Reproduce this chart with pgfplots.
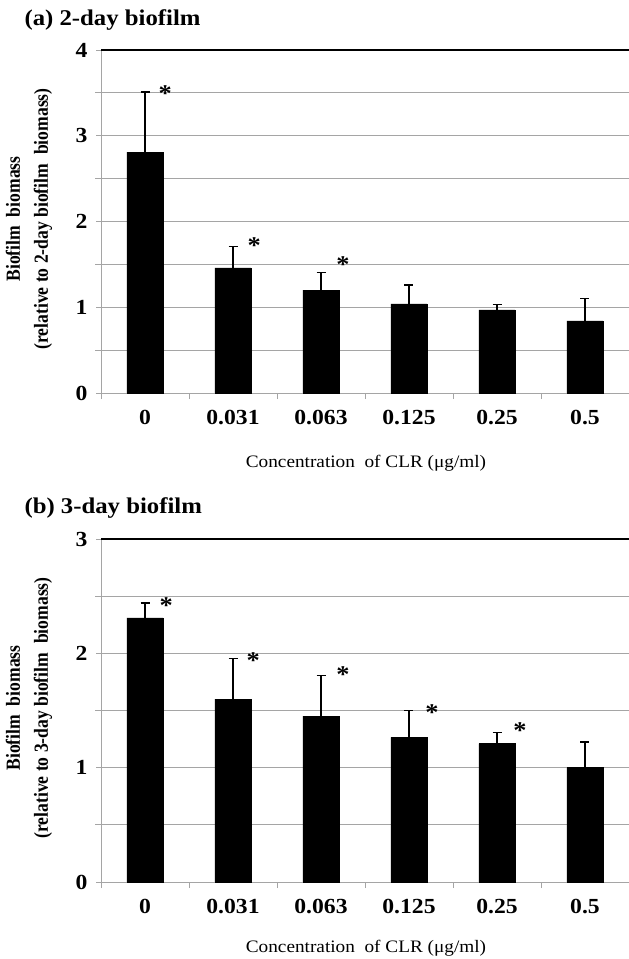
\documentclass[border=0pt]{standalone}
\usepackage{fontspec}
\setmainfont{Liberation Serif}
\newfontfamily\stretched[FakeStretch=1.1]{Liberation Serif}
\newfontfamily\condensed[FakeStretch=0.88]{Liberation Serif}
\usepackage{pgfplots}
\usepackage{pgfplotstable}
\pgfplotsset{compat=1.18}

\pgfplotstableread{
x y e
0 2.81 0.70
1 1.46 0.25
2 1.20 0.21
3 1.04 0.22
4 0.97 0.06
5 0.84 0.26
}\dataA
\pgfplotstableread{
x y
0.23 3.53
1.24 1.75
2.25 1.53
}\starA
\pgfplotstableread{
x y e
0 2.31 0.13
1 1.60 0.355
2 1.45 0.36
3 1.265 0.235
4 1.21 0.10
5 1.00 0.225
}\dataB
\pgfplotstableread{
x y
0.24 2.44
1.23 1.96
2.25 1.84
3.26 1.51
4.26 1.35
}\starB

\definecolor{gridgray}{RGB}{165,165,165}

\pgfplotsset{
  bioaxis/.style={
    scale only axis, width=528pt, height=343pt,
    xmin=-0.5, xmax=5.5, ymin=0,
    axis x line*=bottom, axis y line*=left,
    axis line style={draw=gridgray, line width=0.9pt},
    tick align=outside,
    major tick length=5pt, minor tick length=6pt,
    xtick={0,...,5},
    xticklabels={0,0.031,0.063,0.125,0.25,0.5},
    major x tick style={draw=none},
    minor xtick={-0.5,0.5,1.5,2.5,3.5,4.5,5.5},
    minor x tick style={draw=gridgray, line width=0.9pt},
    major y tick style={draw=gridgray, line width=0.9pt},
    minor y tick style={draw=gridgray, line width=0.9pt},
    ymajorgrids, yminorgrids,
    grid style={draw=gridgray, line width=0.9pt},
    minor grid style={draw=gridgray, line width=0.9pt},
    /pgf/number format/assume math mode=true,
    tick label style={font=\stretched\bfseries\fontsize{21.5}{23}\selectfont},
    xticklabel style={yshift=-9pt},
    yticklabel style={xshift=-5pt},
    clip=false,
  },
  barstyle/.style={
    ybar, bar width=36pt, fill=black, draw=black,
    error bars/.cd, y dir=plus, y explicit,
    error bar style={black, line width=1.1pt},
    error mark options={rotate=90, black, mark size=4.5pt, line width=1.1pt},
  },
  starstyle/.style={
    draw=none, mark=none,
    nodes near coords={*},
    every node near coord/.append style={anchor=center, yshift=-3pt,
      font=\stretched\bfseries\fontsize{24}{26}\selectfont, inner sep=0pt},
  },
}

\begin{document}
\begin{tikzpicture}
\path[use as bounding box] (0,0) rectangle (629pt,-959pt);

% ---------- (a) ----------
\begin{axis}[bioaxis, at={(101pt,-393pt)}, anchor=south west,
  ymax=4, ytick={0,1,2,3}, minor ytick={0.5,1.5,2.5,3.5},
  extra y ticks={4}, extra y tick labels={4},
  extra y tick style={grid style={draw=black, line width=1.1pt}}]
\addplot[barstyle] table[x=x, y=y, y error=e] {\dataA};
\addplot[starstyle] table[x=x, y=y] {\starA};
\end{axis}

\node[anchor=base west, font=\stretched\bfseries\fontsize{22.5}{25}\selectfont]
  at (21pt,-25pt) {(a) 2-day biofilm};
\node[anchor=base, font=\stretched\fontsize{17.5}{20}\selectfont]
  at (366pt,-467pt) {Concentration\ \ of CLR (μg/ml)};
\node[rotate=90, align=center, font=\condensed\bfseries\fontsize{20}{28}\selectfont]
  at (29pt,-219pt) {Biofilm\ \ biomass\\(relative to 2-day biofilm\ \ biomass)};

% ---------- (b) ----------
\begin{axis}[bioaxis, at={(101pt,-882pt)}, anchor=south west,
  ymax=3, ytick={0,1,2}, minor ytick={0.5,1.5,2.5},
  extra y ticks={3}, extra y tick labels={3},
  extra y tick style={grid style={draw=black, line width=1.1pt}}]
\addplot[barstyle] table[x=x, y=y, y error=e] {\dataB};
\addplot[starstyle] table[x=x, y=y] {\starB};
\end{axis}

\node[anchor=base west, font=\stretched\bfseries\fontsize{22.5}{25}\selectfont]
  at (21pt,-513pt) {(b) 3-day biofilm};
\node[anchor=base, font=\stretched\fontsize{17.5}{20}\selectfont]
  at (366pt,-952pt) {Concentration\ \ of CLR (μg/ml)};
\node[rotate=90, align=center, font=\condensed\bfseries\fontsize{20}{28}\selectfont]
  at (29pt,-708pt) {Biofilm\ \ biomass\\(relative to 3-day biofilm\ \ biomass)};
\end{tikzpicture}
\end{document}
